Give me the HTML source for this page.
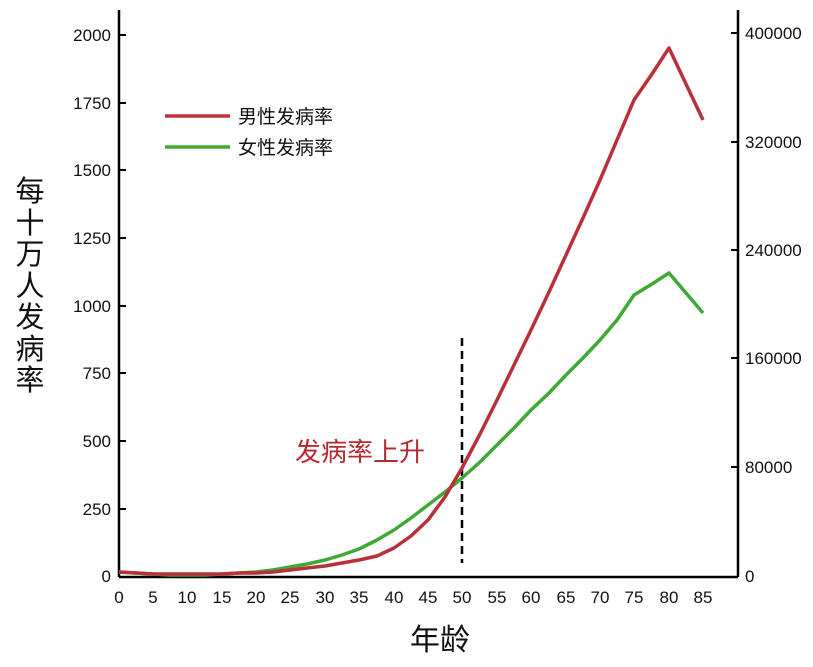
<!DOCTYPE html>
<html><head><meta charset="utf-8"><style>
body{margin:0;background:#fff}
svg{display:block}
text{font-family:"Liberation Sans","Noto Sans CJK SC",sans-serif}
</style></head><body>
<svg width="813" height="667" viewBox="0 0 813 667">
<g stroke="#000" stroke-width="2.5" fill="none">
<line x1="119" y1="10" x2="119" y2="577"/>
<line x1="119" y1="577" x2="738" y2="577"/>
<line x1="738" y1="10" x2="738" y2="577"/>
</g>
<g stroke="#000" stroke-width="2">
<line x1="119" y1="35" x2="126" y2="35"/><line x1="119" y1="103" x2="126" y2="103"/>
<line x1="119" y1="170" x2="126" y2="170"/><line x1="119" y1="238" x2="126" y2="238"/>
<line x1="119" y1="306" x2="126" y2="306"/><line x1="119" y1="373" x2="126" y2="373"/>
<line x1="119" y1="441" x2="126" y2="441"/><line x1="119" y1="509" x2="126" y2="509"/>
<line x1="731" y1="33" x2="738" y2="33"/><line x1="731" y1="142" x2="738" y2="142"/>
<line x1="731" y1="250" x2="738" y2="250"/><line x1="731" y1="358" x2="738" y2="358"/>
<line x1="731" y1="467" x2="738" y2="467"/>
</g>
<g font-size="17" text-anchor="end" fill="#111">
<text x="111" y="41">2000</text><text x="111" y="109">1750</text>
<text x="111" y="176">1500</text><text x="111" y="244">1250</text>
<text x="111" y="312">1000</text><text x="111" y="379">750</text>
<text x="111" y="447">500</text><text x="111" y="515">250</text>
<text x="111" y="582">0</text>
</g>
<g font-size="17" fill="#111">
<text x="745" y="39">400000</text><text x="745" y="148">320000</text>
<text x="745" y="256">240000</text><text x="745" y="364">160000</text>
<text x="745" y="473">80000</text><text x="745" y="582">0</text>
</g>
<g font-size="17" text-anchor="middle" fill="#111">
<text x="119" y="603">0</text><text x="153" y="603">5</text><text x="187" y="603">10</text>
<text x="222" y="603">15</text><text x="256" y="603">20</text><text x="290" y="603">25</text>
<text x="325" y="603">30</text><text x="359" y="603">35</text><text x="394" y="603">40</text>
<text x="428" y="603">45</text><text x="462" y="603">50</text><text x="497" y="603">55</text>
<text x="531" y="603">60</text><text x="566" y="603">65</text><text x="600" y="603">70</text>
<text x="634" y="603">75</text><text x="669" y="603">80</text><text x="703" y="603">85</text>
</g>
<g font-size="29" text-anchor="middle" fill="#111">
<text x="30" y="201">每</text><text x="30" y="233">十</text><text x="30" y="264">万</text>
<text x="30" y="296">人</text><text x="30" y="327">发</text><text x="30" y="359">病</text>
<text x="30" y="390">率</text>
</g>
<text x="440" y="650" font-size="30" text-anchor="middle" fill="#111">年龄</text>
<text x="295" y="461" font-size="26" fill="#b52a30">发病率上升</text>
<line x1="462" y1="338" x2="462" y2="563" stroke="#000" stroke-width="2.5" stroke-dasharray="8,5"/>
<line x1="165" y1="116" x2="230" y2="116" stroke="#c0323a" stroke-width="3.5"/>
<line x1="165" y1="147" x2="230" y2="147" stroke="#3eaa35" stroke-width="3.5"/>
<text x="238" y="123" font-size="19" fill="#111">男性发病率</text>
<text x="238" y="154" font-size="19" fill="#111">女性发病率</text>
<polyline fill="none" stroke="#3eaa35" stroke-width="3.5" stroke-linejoin="round" points="119,572 136,573 153,574 170,575 187,575 205,575 222,574 239,573 256,572 273,570 290,567 307,564 325,560 342,555 359,549 377,540 394,530 411,518 428,505 445,492 462,478 480,462 497,445 514,428 531,410 549,393 566,375 583,358 600,340 617,320 634,295 652,284 669,273 686,293 703,313"/>
<polyline fill="none" stroke="#b8303a" stroke-width="3.5" stroke-linejoin="round" points="119,572 136,573 153,574 170,574 187,574 205,574 222,574 239,573 256,573 273,572 290,570 307,568 325,566 342,563 359,560 377,556 394,548 411,536 428,520 445,497 462,468 480,434 497,400 514,365 531,330 549,292 566,255 583,218 600,180 617,140 634,100 652,74 669,48 686,84 703,120"/>
</svg>
</body></html>
